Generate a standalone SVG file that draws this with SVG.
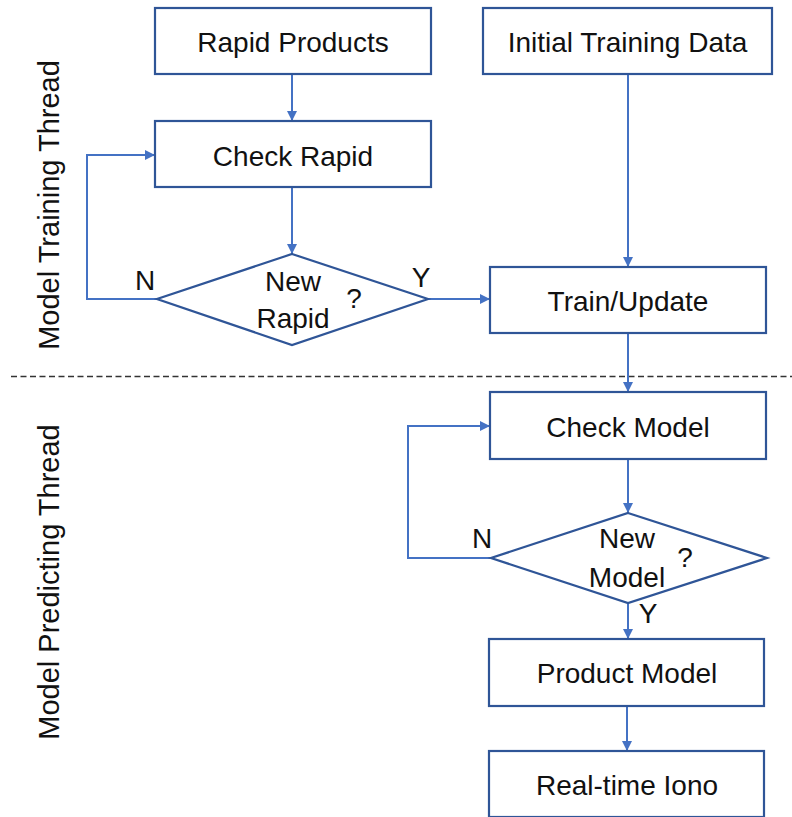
<svg xmlns="http://www.w3.org/2000/svg" width="792" height="817" viewBox="0 0 792 817">
  <defs>
    <marker id="arrow" viewBox="0 0 10 10" refX="10" refY="5" markerWidth="5" markerHeight="5" orient="auto" markerUnits="strokeWidth">
      <path d="M0,0 L10,5 L0,10 z" fill="#4472C4"/>
    </marker>
    <style>
      .box { fill: #ffffff; stroke: #2F5597; stroke-width: 2.2; }
      .lbl { font-family: "Liberation Sans", Arial, sans-serif; font-size: 28px; fill: #111111; text-anchor: middle; }
      .side { font-family: "Liberation Sans", Arial, sans-serif; font-size: 29px; fill: #111111; text-anchor: middle; }
      .edge { fill: none; stroke: #4472C4; stroke-width: 2; marker-end: url(#arrow); }
      .sep { stroke: #333333; stroke-width: 1.5; stroke-dasharray: 6 3.5; }
    </style>
  </defs>
  <rect width="792" height="817" fill="#ffffff"/>

  <!-- thread labels and separator -->
  <text class="side" transform="translate(59,205) rotate(-90)">Model Training Thread</text>
  <text class="side" transform="translate(59,582) rotate(-90)">Model Predicting Thread</text>
  <line class="sep" x1="11" y1="376.5" x2="792" y2="376.5"/>

  <!-- connectors -->
  <g id="connectors">
    <path class="edge" d="M292,74 V121"/>
    <path class="edge" d="M292,187 V254"/>
    <path class="edge" d="M157,299 H87 V155 H155"/>
    <path class="edge" d="M428,299 H490"/>
    <path class="edge" d="M628,74 V267"/>
    <path class="edge" d="M628,333 V392"/>
    <path class="edge" d="M628,459 V513"/>
    <path class="edge" d="M491,558 H408 V426 H490"/>
    <path class="edge" d="M628,603 V639"/>
    <path class="edge" d="M627,706 V751"/>
  </g>

  <!-- training thread -->
  <g id="rapid-products">
    <rect class="box" x="155" y="8" width="276" height="66"/>
    <text class="lbl" x="293" y="52">Rapid Products</text>
  </g>
  <g id="initial-training-data">
    <rect class="box" x="483" y="8" width="289" height="66"/>
    <text class="lbl" x="627.5" y="52">Initial Training Data</text>
  </g>
  <g id="check-rapid">
    <rect class="box" x="155" y="121" width="276" height="66"/>
    <text class="lbl" x="293" y="166">Check Rapid</text>
  </g>
  <g id="new-rapid">
    <polygon class="box" points="292,254 428,299 292,345 157,299"/>
    <text class="lbl" x="293" y="291">New</text>
    <text class="lbl" x="293" y="328">Rapid</text>
    <text class="lbl" x="354" y="308">?</text>
    <text class="lbl" x="145" y="290">N</text>
    <text class="lbl" x="421" y="287">Y</text>
  </g>
  <g id="train-update">
    <rect class="box" x="490" y="267" width="276" height="66"/>
    <text class="lbl" x="628" y="311">Train/Update</text>
  </g>

  <!-- predicting thread -->
  <g id="check-model">
    <rect class="box" x="490" y="392" width="276" height="67"/>
    <text class="lbl" x="628" y="437">Check Model</text>
  </g>
  <g id="new-model">
    <polygon class="box" points="628,513 767,558 628,603 491,558"/>
    <text class="lbl" x="627" y="548">New</text>
    <text class="lbl" x="627" y="587">Model</text>
    <text class="lbl" x="685" y="567">?</text>
    <text class="lbl" x="482" y="548">N</text>
    <text class="lbl" x="648" y="623">Y</text>
  </g>
  <g id="product-model">
    <rect class="box" x="489" y="639" width="275" height="67"/>
    <text class="lbl" x="627" y="683">Product Model</text>
  </g>
  <g id="real-time-iono">
    <rect class="box" x="489" y="751" width="275" height="66"/>
    <text class="lbl" x="627" y="795">Real-time Iono</text>
  </g>
</svg>
